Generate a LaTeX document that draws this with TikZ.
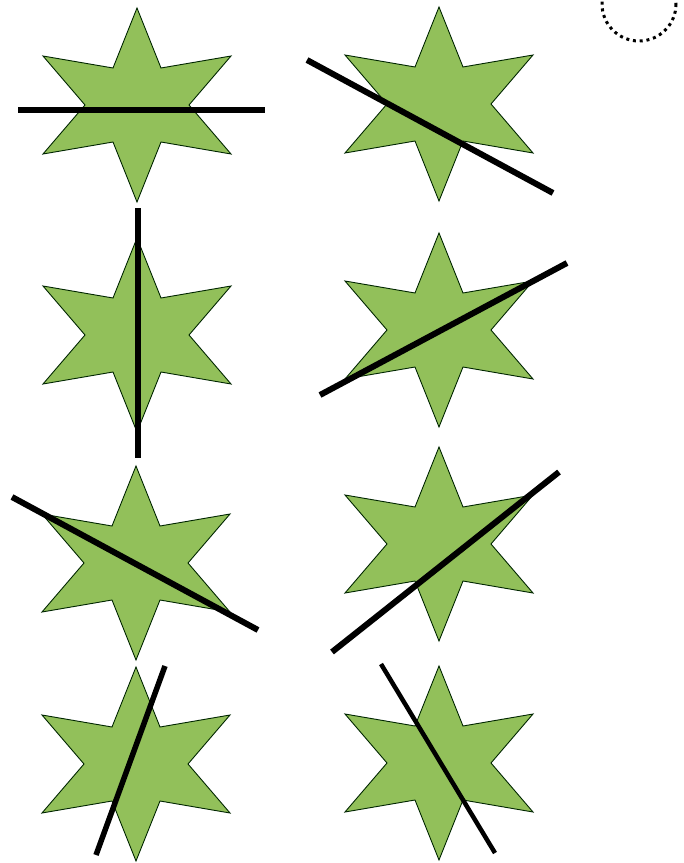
\documentclass[tikz,border=0pt]{standalone}
\begin{document}
\begin{tikzpicture}[x=1pt,y=-1pt,
  starfill/.style={fill={rgb,255:red,146;green,192;blue,90}, draw=black!75!green!60!black, line width=0.9pt, line join=miter},
  bar/.style={line width=6pt, black},
  midbar/.style={line width=5.5pt, black},
  thinbar/.style={line width=4.5pt, black},
  star6/.pic={\path[starfill] (0,-97) -- (24,-37) -- (94,-49) -- (52,0) -- (94,49) -- (24,37) -- (0,97) -- (-24,37) -- (-94,49) -- (-52,0) -- (-94,-49) -- (-24,-37) -- cycle;}]
\path[use as bounding box, fill=white] (0,0) rectangle (684,863);
\begin{scope}
\clip (0,0) rectangle (684,863);
\draw[line width=3pt, dash pattern=on 3pt off 3.8pt] (639,4) circle (37);
% stars
\pic at (137,105) {star6};
\pic at (439,104) {star6};
\pic at (137,335) {star6};
\pic at (439,330) {star6};
\pic at (136,563) {star6};
\pic at (439,544) {star6};
\pic at (136,764) {star6};
\pic at (439,763) {star6};
% bars
\coordinate (a1) at (18,110);  \coordinate (b1) at (265,110);
\coordinate (a2) at (307,60);  \coordinate (b2) at (553,193);
\coordinate (a3) at (138,208); \coordinate (b3) at (138,458);
\coordinate (a4) at (320,395); \coordinate (b4) at (567,263);
\coordinate (a5) at (12,497);  \coordinate (b5) at (258,630);
\coordinate (a6) at (332,652); \coordinate (b6) at (559,472);
\coordinate (a7) at (96,855);  \coordinate (b7) at (165,666);
\coordinate (a8) at (381,664); \coordinate (b8) at (495,853);
\draw[bar] (a1) -- (b1);
\draw[bar] (a2) -- (b2);
\draw[bar] (a3) -- (b3);
\draw[bar] (a4) -- (b4);
\draw[bar] (a5) -- (b5);
\draw[bar] (a6) -- (b6);
\draw[midbar] (a7) -- (b7);
\draw[thinbar] (a8) -- (b8);
\end{scope}
\end{tikzpicture}
\end{document}
